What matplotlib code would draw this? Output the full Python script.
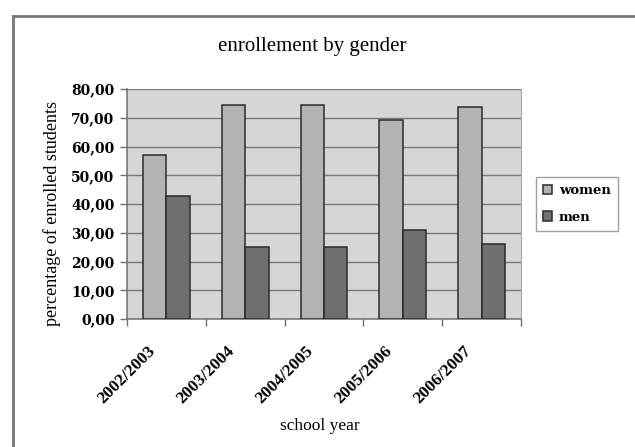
import matplotlib

matplotlib.use("Agg")
import matplotlib.pyplot as plt
import matplotlib.transforms as mtransforms
import numpy as np
from matplotlib.lines import Line2D
from matplotlib.ticker import FixedLocator, FuncFormatter

years = ["2002/2003", "2003/2004", "2004/2005", "2005/2006", "2006/2007"]
women = [56.9, 74.5, 74.5, 69.1, 73.9]
men = [42.8, 24.9, 24.9, 30.9, 26.2]

SERIF = "Liberation Serif"
BOLD_SERIF = "DejaVu Serif"

fig = plt.figure(figsize=(6.35, 4.47), dpi=100)
ax = fig.add_axes([127 / 635, 1 - 319 / 447, 394 / 635, 230 / 447])

x = np.arange(len(years))
w = 0.296
ax.bar(x - w / 2, women, w, color="#b3b3b3", edgecolor="#2a2a2a", linewidth=1.1,
       label="women", zorder=3)
ax.bar(x + w / 2, men, w, color="#6f6f6f", edgecolor="#2a2a2a", linewidth=1.1,
       label="men", zorder=3)

ax.set_facecolor("#d6d6d6")
ax.set_xlim(-0.5, len(years) - 0.5)
ax.set_ylim(0, 80)
ax.set_yticks(np.arange(0, 81, 10))
ax.yaxis.set_major_formatter(FuncFormatter(lambda v, _: f"{v:.2f}".replace(".", ",")))
ax.grid(True, axis="y", color="#7a7a7a", linewidth=1.0, zorder=1)

# category labels at the centres, tick marks on the boundaries
ax.set_xticks(x)
ax.set_xticklabels(years, rotation=45, ha="right", va="center", rotation_mode="anchor",
                   family=SERIF, fontweight="bold", fontsize=12.5)
ax.xaxis.set_minor_locator(FixedLocator(np.arange(-0.5, len(years), 1.0)))
ax.tick_params(axis="x", which="major", length=0, pad=0)
ax.tick_params(axis="x", which="minor", length=5, color="#707070", width=1)
ax.tick_params(axis="y", length=5, color="#707070", width=1, pad=4)
shift = mtransforms.ScaledTranslation(-13 / 100, -30 / 100, fig.dpi_scale_trans)
for lab in ax.get_xticklabels():
    lab.set_transform(lab.get_transform() + shift)
for lab in ax.get_yticklabels():
    lab.set_family(BOLD_SERIF)
    lab.set_fontweight("bold")
    lab.set_fontsize(10)

for side in ["left", "bottom"]:
    ax.spines[side].set_color("#707070")
    ax.spines[side].set_linewidth(1.1)
ax.spines["top"].set_visible(False)
ax.spines["right"].set_color("#a8a8a8")

ax.set_ylabel("percentage of enrolled students", family=SERIF, fontsize=13)
ax.yaxis.set_label_coords(-(127 - 61) / 394, (319 - 214) / 230)
ax.set_xlabel("school year", family=SERIF, fontsize=12.5)
ax.xaxis.set_label_coords((320 - 127) / 394, -(418 - 319) / 230)
fig.text(312 / 635, 1 - 46 / 447, "enrollement by gender", family=SERIF,
         fontsize=15, ha="center", va="center")

leg = ax.legend(loc="center left", bbox_to_anchor=(536 / 635, 1 - 204 / 447),
                bbox_transform=fig.transFigure, frameon=True, fancybox=False,
                prop={"family": BOLD_SERIF, "weight": "bold", "size": 9.5},
                handlelength=0.7, handleheight=0.7, handletextpad=0.5,
                borderpad=0.55, labelspacing=1.0, borderaxespad=0)
leg.get_frame().set_edgecolor("#8a8a8a")
leg.get_frame().set_linewidth(1.0)

# chart area frame (top and left edges)
fig.add_artist(Line2D([13 / 635, 1.0], [1 - 16 / 447, 1 - 16 / 447],
                      transform=fig.transFigure, color="#777777", linewidth=2))
fig.add_artist(Line2D([13 / 635, 13 / 635], [0.0, 1 - 16 / 447],
                      transform=fig.transFigure, color="#777777", linewidth=2))

fig.savefig("out.png", dpi=100, facecolor="white")
